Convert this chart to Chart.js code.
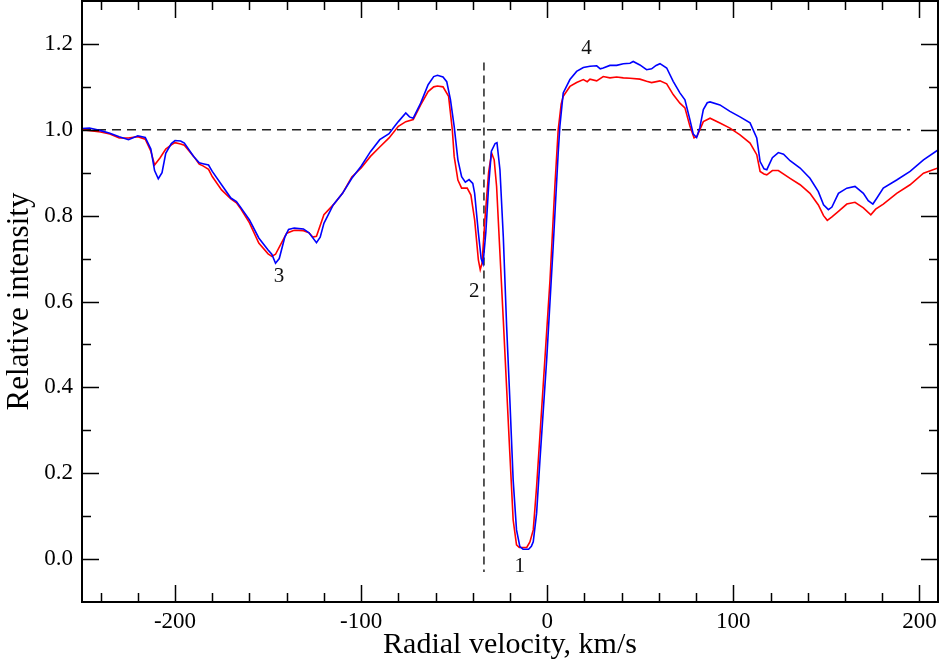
<!DOCTYPE html>
<html>
<head>
<meta charset="utf-8">
<title>Relative intensity vs radial velocity</title>
<script src="https://cdn.jsdelivr.net/npm/chart.js@4/dist/chart.umd.min.js"></script>
<style>
  html, body { margin: 0; padding: 0; background: #fff; }
  #wrap { width: 940px; height: 661px; }
</style>
</head>
<body>
<div id="wrap"><canvas id="profileChart" width="940" height="661"></canvas></div>
<script>
'use strict';

// --- Data ---
const blueVel = [
  -250, -246, -240, -235, -230, -225, -220, -216, -213, -211, -209, -207, -205, -202, -200,
  -197, -195, -190, -187, -185, -182, -180, -175, -170, -167, -165, -160, -155, -150, -148,
  -146, -144, -141, -139, -136, -131, -128, -124, -122, -120, -115, -110, -105, -100, -95,
  -90, -85, -82, -80, -76, -74, -72, -68, -64, -61, -59, -56, -54, -52, -50,
  -48, -46, -44, -42, -40, -39, -37, -35.5, -34.5, -33, -31.5, -30, -28, -27, -25.4,
  -23.6, -21.8, -20, -18.3, -16.5, -14.7, -13, -10, -8.5, -7.5, -5.7, -3.9, -0.3, 3.2, 5.9,
  6.8, 8.6, 12.2, 15.8, 19.4, 23, 26.6, 28.5, 30.1, 33.7, 37.3, 40.9, 44.5, 46.2, 49.8,
  53.4, 56.1, 58.5, 60.6, 64.2, 67.7, 71.3, 74, 76.7, 78.5, 80.3, 82, 83.9, 86, 87.5,
  92.8, 98.2, 103.6, 109, 112.6, 114.4, 116.5, 118, 121, 124.2, 127, 130.5, 135.9, 141.2, 145.7,
  148.5, 151.1, 153, 156.5, 161, 165.4, 169.9, 172.5, 175, 177, 180.6, 187.8, 195, 202.2, 210
];
const blueInt = [
  1.003, 1.004, 0.998, 0.992, 0.984, 0.977, 0.986, 0.982, 0.955, 0.905, 0.886, 0.900, 0.945, 0.968, 0.975,
  0.974, 0.969, 0.938, 0.923, 0.921, 0.918, 0.903, 0.872, 0.841, 0.833, 0.821, 0.790, 0.748, 0.720, 0.710,
  0.689, 0.700, 0.750, 0.768, 0.771, 0.769, 0.760, 0.737, 0.750, 0.782, 0.825, 0.852, 0.887, 0.915, 0.949,
  0.977, 0.991, 1.008, 1.019, 1.039, 1.030, 1.027, 1.062, 1.105, 1.124, 1.127, 1.123, 1.112, 1.070, 1.008,
  0.930, 0.891, 0.878, 0.884, 0.875, 0.852, 0.760, 0.700, 0.688, 0.760, 0.868, 0.950, 0.968, 0.970, 0.907,
  0.751, 0.541, 0.363, 0.184, 0.068, 0.029, 0.023, 0.023, 0.030, 0.040, 0.107, 0.231, 0.464, 0.728, 0.946,
  1.008, 1.086, 1.117, 1.136, 1.145, 1.148, 1.149, 1.142, 1.144, 1.150, 1.150, 1.154, 1.155, 1.159, 1.151,
  1.140, 1.142, 1.150, 1.154, 1.144, 1.113, 1.086, 1.070, 1.023, 0.990, 0.982, 1.005, 1.047, 1.063, 1.065,
  1.058, 1.043, 1.030, 1.016, 0.981, 0.926, 0.909, 0.907, 0.935, 0.947, 0.943, 0.928, 0.911, 0.887, 0.856,
  0.825, 0.814, 0.820, 0.852, 0.864, 0.868, 0.852, 0.835, 0.827, 0.840, 0.864, 0.883, 0.903, 0.930, 0.953
];

const redVel = [
  -250, -240, -235, -230, -225, -220, -216, -213, -211, -208, -205, -202, -200, -197, -195,
  -190, -187, -185, -182, -180, -175, -170, -167, -165, -160, -155, -150, -148, -146, -143,
  -140, -136, -131, -128, -126, -124, -120, -115, -110, -105, -100, -95, -90, -85, -80,
  -76, -72, -68, -64, -61, -59, -56, -53, -51, -50, -48, -46, -43, -41, -39,
  -37, -36, -35, -33.5, -31.5, -29.9, -28.5, -27.2, -23.6, -20.1, -18.3, -16.5, -15, -11, -9.3,
  -7.5, -5.7, -2.2, 1.5, 4.1, 5.9, 7.5, 8.6, 12.2, 15.8, 19.4, 21.5, 23, 26.6, 30.1,
  33.7, 37.3, 40.9, 44.5, 49.8, 53.4, 56.1, 60.6, 64.2, 67.7, 71.3, 74, 76.7, 78.9, 80.5,
  82.5, 83.9, 87.5, 92.8, 98.2, 103.6, 109, 112.6, 114.4, 116.5, 118, 121, 124.2, 130.5, 135.9,
  141.2, 145.7, 148.5, 150.5, 153, 156.5, 161, 165.4, 169.9, 173.9, 176.5, 180.6, 187.8, 195, 202.2,
  210
];
const redInt = [
  1.000, 0.995, 0.990, 0.981, 0.981, 0.984, 0.978, 0.950, 0.918, 0.935, 0.955, 0.965, 0.970, 0.967, 0.964,
  0.938, 0.920, 0.916, 0.908, 0.891, 0.860, 0.839, 0.830, 0.818, 0.783, 0.736, 0.711, 0.705, 0.710, 0.735,
  0.759, 0.766, 0.765, 0.760, 0.750, 0.752, 0.802, 0.825, 0.852, 0.890, 0.911, 0.938, 0.960, 0.981, 1.008,
  1.019, 1.024, 1.058, 1.089, 1.100, 1.102, 1.100, 1.078, 1.000, 0.938, 0.883, 0.864, 0.864, 0.848, 0.790,
  0.697, 0.674, 0.690, 0.790, 0.900, 0.946, 0.930, 0.868, 0.557, 0.247, 0.091, 0.033, 0.027, 0.027, 0.040,
  0.068, 0.169, 0.402, 0.650, 0.868, 1.000, 1.060, 1.078, 1.101, 1.110, 1.117, 1.112, 1.118, 1.114, 1.124,
  1.121, 1.123, 1.121, 1.120, 1.118, 1.113, 1.110, 1.114, 1.107, 1.082, 1.062, 1.051, 1.008, 0.981, 0.985,
  1.005, 1.019, 1.027, 1.016, 1.004, 0.988, 0.969, 0.942, 0.903, 0.897, 0.895, 0.905, 0.905, 0.887, 0.872,
  0.852, 0.825, 0.800, 0.789, 0.797, 0.810, 0.827, 0.831, 0.818, 0.802, 0.815, 0.827, 0.852, 0.872, 0.899,
  0.911
];

// reference lines: continuum level and the vertical marker
const contVel = [-250, 195];
const contInt = [1.0, 1.0];
const markVel = [-34, -34];
const markInt = [1.157, -0.03];

// feature labels
const featText = ['1', '2', '3', '4'];
const featVel = [-14.7, -39.2, -144.1, 21.1];
const featInt = [-0.018, 0.623, 0.658, 1.19];

const xTicks = [-200, -100, 0, 100, 200];
const yTicks = [0, 0.2, 0.4, 0.6, 0.8, 1.0, 1.2];

const SERIF = '"Liberation Serif", "Times New Roman", serif';

function pts(xs, ys) {
  return xs.map((x, i) => ({ x: x, y: ys[i] }));
}

// frame + inward ticks on all four sides, and the feature numbers
const framePlugin = {
  id: 'frame',
  afterDraw(chart) {
    const { ctx, chartArea: a, scales } = chart;
    const sx = scales.x, sy = scales.y;
    ctx.save();
    ctx.strokeStyle = '#000';
    ctx.lineWidth = 2;
    ctx.strokeRect(a.left, a.top, a.right - a.left, a.bottom - a.top);

    ctx.lineWidth = 1.5;
    ctx.beginPath();
    for (let v = -240; v <= 200; v += 20) {
      const px = Math.round(sx.getPixelForValue(v)) + 0.5;
      const len = xTicks.includes(v) ? 17 : 9;
      ctx.moveTo(px, a.bottom); ctx.lineTo(px, a.bottom - len);
      ctx.moveTo(px, a.top); ctx.lineTo(px, a.top + len);
    }
    for (let k = 0; k <= 12; k++) {
      const v = k / 10;
      const py = Math.round(sy.getPixelForValue(v)) + 0.5;
      const len = k % 2 === 0 ? 17 : 9;
      ctx.moveTo(a.left, py); ctx.lineTo(a.left + len, py);
      ctx.moveTo(a.right, py); ctx.lineTo(a.right - len, py);
    }
    ctx.stroke();

    ctx.fillStyle = '#111';
    ctx.font = '21px ' + SERIF;
    ctx.textAlign = 'center';
    ctx.textBaseline = 'middle';
    featText.forEach((t, i) => {
      ctx.fillText(t, sx.getPixelForValue(featVel[i]), sy.getPixelForValue(featInt[i]));
    });
    ctx.restore();
  },
};

const ctx = document.getElementById('profileChart').getContext('2d');
new Chart(ctx, {
  type: 'scatter',
  data: {
    datasets: [
      {
        label: 'blue',
        data: pts(blueVel, blueInt),
        showLine: true,
        borderColor: '#0000ff',
        borderWidth: 1.6,
        pointRadius: 0,
        tension: 0,
      },
      {
        label: 'red',
        data: pts(redVel, redInt),
        showLine: true,
        borderColor: '#ff0000',
        borderWidth: 1.6,
        pointRadius: 0,
        tension: 0,
      },
      {
        label: 'continuum',
        data: pts(contVel, contInt),
        showLine: true,
        borderColor: '#222',
        borderWidth: 1.5,
        borderDash: [9, 6],
        pointRadius: 0,
      },
      {
        label: 'marker',
        data: pts(markVel, markInt),
        showLine: true,
        borderColor: '#222',
        borderWidth: 1.5,
        borderDash: [8, 5],
        pointRadius: 0,
      },
    ],
  },
  options: {
    responsive: false,
    animation: false,
    layout: { padding: { top: 1, right: 2, left: 0, bottom: 0 } },
    plugins: { legend: { display: false }, tooltip: { enabled: false } },
    scales: {
      x: {
        type: 'linear',
        min: -250,
        max: 210,
        grid: { display: false, drawTicks: false },
        border: { display: false },
        afterBuildTicks: (s) => { s.ticks = xTicks.map(v => ({ value: v })); },
        afterFit: (s) => { s.height = 59; s.paddingLeft = 0; s.paddingRight = 0; },
        ticks: { color: '#000', padding: 6, maxRotation: 0, font: { family: SERIF, size: 23 } },
        title: {
          display: true,
          text: 'Radial velocity, km/s',
          color: '#000',
          padding: { top: 0, bottom: -2 },
          font: { family: SERIF, size: 30 },
        },
      },
      y: {
        type: 'linear',
        min: -0.1,
        max: 1.3,
        grid: { display: false, drawTicks: false },
        border: { display: false },
        afterBuildTicks: (s) => { s.ticks = yTicks.map(v => ({ value: v })); },
        afterFit: (s) => { s.width = 82; s.paddingTop = 0; s.paddingBottom = 0; },
        ticks: {
          color: '#000',
          padding: 9,
          font: { family: SERIF, size: 23 },
          callback: (v) => Number(v).toFixed(1),
        },
        title: {
          display: true,
          text: 'Relative intensity',
          color: '#000',
          padding: { top: 1, bottom: 0 },
          font: { family: SERIF, size: 31 },
        },
      },
    },
  },
  plugins: [framePlugin],
});
</script>
</body>
</html>
